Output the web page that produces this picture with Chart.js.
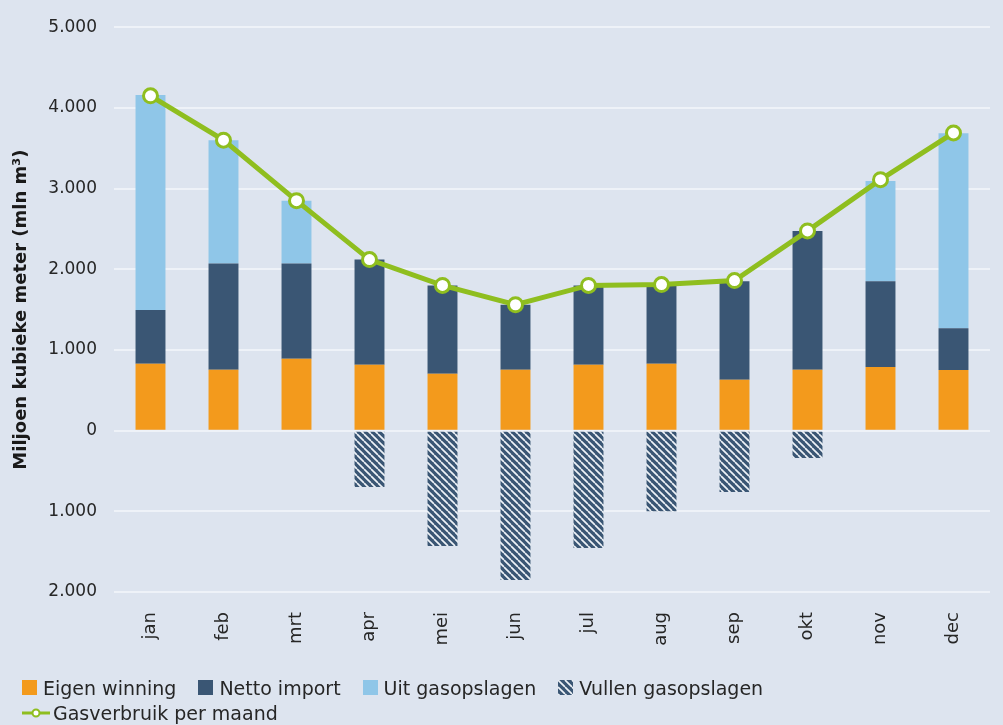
<!DOCTYPE html>
<html>
<head>
<meta charset="utf-8">
<script src="https://cdn.jsdelivr.net/npm/chart.js@4"></script>
<style>
  html, body { margin: 0; padding: 0; background: #dde4ef; }
  #wrap { position: relative; width: 1003px; height: 725px; }
  #legend { position: absolute; left: 22px; top: 675px; font-family: "DejaVu Sans", sans-serif; font-size: 19px; color: #262626; }
  .row { display: flex; align-items: center; height: 25px; }
  .item { display: flex; align-items: center; margin-right: 22px; }
  .box { width: 15px; height: 15px; margin-right: 6px; }
</style>
</head>
<body>
<div id="wrap">
  <canvas id="gasChart" width="1003" height="725"></canvas>
  <div id="legend"></div>
</div>
<script>
// Months
const labels = ['jan', 'feb', 'mrt', 'apr', 'mei', 'jun', 'jul', 'aug', 'sep', 'okt', 'nov', 'dec'];

// Values in mln m3
const eigenWinning = [830, 756, 890, 817, 706, 756, 817, 830, 632, 756, 790, 752];
const nettoImport = [666, 1314, 1180, 1303, 1094, 804, 983, 970, 1218, 1719, 1060, 518];
const uitOpslag = [2664, 1530, 780, 0, 0, 0, 0, 0, 0, 0, 1245, 2417];
const vullenOpslag = [0, 0, 0, -700, -1430, -1850, -1455, -1000, -760, -340, 0, 0];
const gasverbruik = [4150, 3600, 2850, 2120, 1800, 1560, 1800, 1810, 1860, 2475, 3110, 3690];

const yTicks = [-2000, -1000, 0, 1000, 2000, 3000, 4000, 5000];

const ORANGE = '#f39a1c';
const NAVY = '#3a5674';
const LIGHT = '#8fc6e8';
const GREEN = '#8fbe1f';

// hatch pattern for "Vullen gasopslagen"
function makeHatch(g) {
    const c = document.createElement('canvas');
    c.width = 7;
    c.height = 7;
    const h = c.getContext('2d');
    h.fillStyle = NAVY;
    h.fillRect(0, 0, 7, 7);
    h.strokeStyle = '#eef2f7';
    h.lineWidth = 1.7;
    for (let k = -7; k <= 7; k += 7) {
        h.beginPath();
        h.moveTo(k, 0);
        h.lineTo(k + 7, 7);
        h.stroke();
    }
    return g.createPattern(c, 'repeat');
}

const ctx = document.getElementById('gasChart').getContext('2d');
const hatch = makeHatch(ctx);
const FONT = '"DejaVu Sans", sans-serif';

const chart = new Chart(ctx, {
    type: 'bar',
    data: {
        labels: labels,
        datasets: [{
            type: 'line',
            label: 'Gasverbruik per maand',
            data: gasverbruik,
            borderColor: GREEN,
            borderWidth: 5,
            pointBackgroundColor: '#ffffff',
            pointBorderColor: GREEN,
            pointBorderWidth: 3,
            pointRadius: 7,
            tension: 0,
            stack: 'line',
            order: 0,
        }, {
            label: 'Eigen winning',
            data: eigenWinning,
            backgroundColor: ORANGE,
            stack: 'gas',
            order: 1,
        }, {
            label: 'Netto import',
            data: nettoImport,
            backgroundColor: NAVY,
            stack: 'gas',
            order: 1,
        }, {
            label: 'Uit gasopslagen',
            data: uitOpslag,
            backgroundColor: LIGHT,
            stack: 'gas',
            order: 1,
        }, {
            label: 'Vullen gasopslagen',
            data: vullenOpslag,
            backgroundColor: hatch,
            stack: 'gas',
            order: 1,
        }],
    },
    options: {
        responsive: false,
        animation: false,
        categoryPercentage: 0.82,
        barPercentage: 0.5,
        layout: {
            padding: { left: 11, right: 13, top: 12, bottom: 73 },
        },
        plugins: {
            legend: { display: false },
            tooltip: { enabled: false },
        },
        scales: {
            x: {
                stacked: true,
                grid: { display: false },
                border: { display: false },
                ticks: {
                    color: '#262626',
                    font: { family: FONT, size: 18 },
                    minRotation: 90,
                    maxRotation: 90,
                    padding: 12,
                },
                afterFit(scale) {
                    scale.height = 60;
                },
            },
            y: {
                stacked: true,
                min: -2000,
                max: 5000,
                afterBuildTicks(scale) {
                    scale.ticks = yTicks.map((v) => ({ value: v }));
                },
                grid: { color: '#eef2f8', lineWidth: 2, drawTicks: false },
                border: { display: false },
                ticks: {
                    color: '#262626',
                    font: { family: FONT, size: 17 },
                    padding: 17,
                    callback(v) {
                        return Math.abs(v).toLocaleString('nl-NL');
                    },
                },
                title: {
                    display: true,
                    text: 'Miljoen kubieke meter (mln m³)',
                    color: '#1a1a1a',
                    font: { family: FONT, size: 18, weight: 'bold' },
                    padding: { top: 0, bottom: 0 },
                },
                afterFit(scale) {
                    scale.width = 103;
                },
            },
        },
    },
});

// Legend (html)
const legendRows = [
    [
        { text: 'Eigen winning', color: ORANGE },
        { text: 'Netto import', color: NAVY },
        { text: 'Uit gasopslagen', color: LIGHT },
        { text: 'Vullen gasopslagen', hatch: true },
    ],
    [
        { text: 'Gasverbruik per maand', line: true },
    ],
];

const legendEl = document.getElementById('legend');
legendRows.forEach((row) => {
    const rowEl = document.createElement('div');
    rowEl.className = 'row';
    row.forEach((it) => {
        const item = document.createElement('div');
        item.className = 'item';
        if (it.line) {
            const icon = document.createElement('canvas');
            icon.width = 28;
            icon.height = 14;
            icon.style.marginRight = '3px';
            const g = icon.getContext('2d');
            g.strokeStyle = GREEN;
            g.lineWidth = 3;
            g.beginPath();
            g.moveTo(0, 7);
            g.lineTo(28, 7);
            g.stroke();
            g.fillStyle = '#ffffff';
            g.lineWidth = 2;
            g.beginPath();
            g.arc(14, 7, 3.5, 0, Math.PI * 2);
            g.fill();
            g.stroke();
            item.appendChild(icon);
        } else {
            const box = document.createElement('canvas');
            box.width = 15;
            box.height = 15;
            box.className = 'box';
            const g = box.getContext('2d');
            g.fillStyle = it.hatch ? makeHatch(g) : it.color;
            g.fillRect(0, 0, 15, 15);
            item.appendChild(box);
        }
        const span = document.createElement('span');
        span.textContent = it.text;
        item.appendChild(span);
        rowEl.appendChild(item);
    });
    legendEl.appendChild(rowEl);
});
</script>
</body>
</html>
